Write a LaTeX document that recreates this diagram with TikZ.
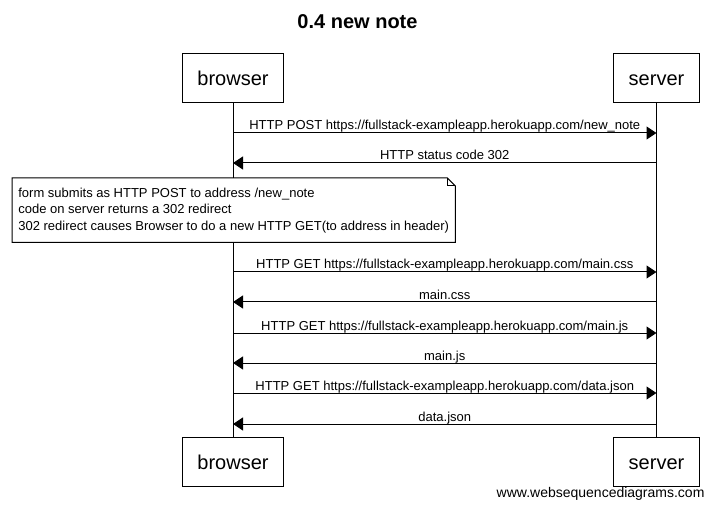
\documentclass[tikz,border=0pt]{standalone}
\usepackage{fontspec}
\setmainfont{Liberation Sans}
\usetikzlibrary{arrows.meta}

\begin{document}
\begin{tikzpicture}[
    x=1pt, y=-1pt,
    font=\fontsize{13pt}{16.5pt}\selectfont,
    aktor/.style={draw, line width=1pt, fill=white, minimum height=49pt,
                  inner xsep=15pt, text height=14.4pt, text depth=0pt,
                  font=\fontsize{20pt}{24pt}\selectfont},
    pesan/.style={anchor=base, yshift=3pt, inner sep=0pt},
    panah/.style={-{Triangle[length=10pt, width=13pt]}, line width=1pt},
    catatan/.style={fill=white, align=left, anchor=north west, minimum width=443pt,
                    minimum height=64pt, inner xsep=5pt}
  ]
    \useasboundingbox (0,0) rectangle (714,510);
    \node[font=\fontsize{20pt}{24pt}\selectfont\bfseries] (judul) at (357.5,22) {0.4 new note};

    \node[aktor] (b1) at (233,78)   {browser};
    \node[aktor] (s1) at (656.5,78) {server};
    \node[aktor] (b2) at (233,462)   {browser};
    \node[aktor] (s2) at (656.5,462) {server};
    \draw[line width=1pt] (b1) -- (b2);
    \draw[line width=1pt] (s1) -- (s2);

    \node[catatan] (cat) at (12,178)
      {form submits as HTTP POST to address /new\_note\\
       code on server returns a 302 redirect\\
       302 redirect causes Browser to do a new HTTP GET(to address in header)};
    \draw[line width=1pt] (cat.north west) -- ([xshift=-8pt]cat.north east)
      -- ([yshift=-8pt]cat.north east) -- (cat.south east) -- (cat.south west) -- cycle;
    \draw[line width=1pt] ([xshift=-8pt]cat.north east) |- ([yshift=-8pt]cat.north east);

    \foreach \y/\dari/\ke/\teks in {
        133/b1/s1/{HTTP POST https://fullstack-exampleapp.herokuapp.com/new\_note},
        163/s1/b1/{HTTP status code 302},
        272/b1/s1/{HTTP GET https://fullstack-exampleapp.herokuapp.com/main.css},
        302/s1/b1/{main.css},
        333/b1/s1/{HTTP GET https://fullstack-exampleapp.herokuapp.com/main.js},
        363/s1/b1/{main.js},
        393/b1/s1/{HTTP GET https://fullstack-exampleapp.herokuapp.com/data.json},
        424/s1/b1/{data.json}}
      \draw[panah] (\dari |- 0,\y) -- node[pesan] {\teks} (\ke |- 0,\y);

    \node[anchor=east, font=\fontsize{14pt}{17pt}\selectfont] (situs) at (708,494)
      {www.websequencediagrams.com};
\end{tikzpicture}
\end{document}
